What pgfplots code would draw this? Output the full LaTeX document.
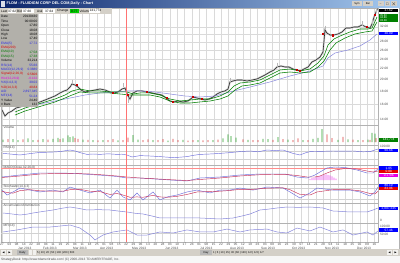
\documentclass[border=0pt]{standalone}
\usepackage{amssymb}
\usepackage{pgfplots}
\pgfplotsset{compat=1.18}
\usepackage{pgfplotstable}
\usepackage{fontspec}
\setmainfont{Liberation Sans}
\definecolor{titleL}{RGB}{10,36,106}
\definecolor{titleR}{RGB}{166,202,240}
\definecolor{wgray}{RGB}{212,208,200}
\definecolor{dwin}{RGB}{178,176,170}
\definecolor{emag}{RGB}{0,128,0}
\definecolor{lav}{RGB}{136,136,220}
\definecolor{cred}{RGB}{200,0,0}
\definecolor{vgreen}{RGB}{40,160,40}
\definecolor{vred}{RGB}{220,60,60}
\definecolor{gridc}{RGB}{218,218,218}
\definecolor{tblue}{RGB}{40,40,230}
\definecolor{tred}{RGB}{220,0,0}
\definecolor{tgreen}{RGB}{0,120,0}
\definecolor{tmag}{RGB}{230,0,230}
\definecolor{bxblue}{RGB}{0,0,255}
\definecolor{bxred}{RGB}{230,0,0}
\definecolor{bxgreen}{RGB}{0,128,0}
\definecolor{macdred}{RGB}{200,50,90}
\definecolor{macdblue}{RGB}{110,110,220}
\newcommand{\tf}{\fontsize{3.2}{3.6}\selectfont}
\newcommand{\tfs}{\fontsize{2.7}{2.9}\selectfont}
\newcommand{\valbox}[4]{\node[fill=#1, text=white, inner sep=0pt, minimum width=19pt, minimum height=#4, anchor=west, font=\tf] at (379,#2) {#3};}
\newcommand{\drow}[4]{\node[anchor=west,font=\tf,text=#4,inner sep=0pt] at (1,#1) {#2};\node[anchor=east,font=\tf,text=#4,inner sep=0pt] at (37.5,#1) {#3};}
\pgfplotsset{panel/.style={scale only axis, width=377pt, xmin=1, xmax=378, anchor=south west,
  axis line style={draw=gray!60, line width=0.5pt}, xtick={2,9.3,...,375}, xticklabels={},
  xmajorgrids, grid style={gridc, line width=0.4pt}, major tick length=0pt, ytick=\empty}}

\pgfplotstableread{
x p
2 15.24
5 14.44
8 14.84
12 15.10
16 15.51
20 15.65
25 15.94
30 16.22
35 16.22
40 16.37
45 16.66
50 16.96
55 17.27
60 17.74
64 18.06
67 18.22
70 18.71
72 19.22
75 19.05
78 18.71
81 18.22
85 17.90
90 18.06
95 18.22
100 18.38
105 18.22
110 17.90
114 17.74
118 17.90
122 18.38
125 18.55
128 17.27
130 16.81
133 17.74
137 18.06
142 18.06
147 17.90
152 17.74
157 17.58
162 17.42
166 16.96
170 16.51
174 16.37
178 16.51
183 16.37
188 16.51
193 17.11
197 16.96
201 16.81
205 16.66
209 16.81
213 17.11
217 17.58
221 17.90
225 18.06
228 18.38
230 19.57
233 19.74
237 19.92
242 19.92
247 19.74
252 19.92
257 20.10
261 20.46
265 20.83
270 21.39
274 21.78
277 22.37
281 22.57
285 22.37
289 22.37
293 21.97
297 21.78
300 21.58
304 21.97
308 22.37
312 23.39
316 23.81
320 24.45
323 25.57
325 31.12
327 30.29
330 29.76
334 29.76
338 30.03
342 30.57
346 31.68
350 31.68
354 31.96
358 31.96
362 32.54
366 31.96
370 31.68
372 32.83
374 34.94
376 36.54
377.5 37.62
}\closetab

\begin{document}
\begin{tikzpicture}
\useasboundingbox (0,0) rectangle (400pt,263pt);
\fill[white] (0,0) rectangle (400pt,263pt);

% ---------------- price panel
\begin{axis}[panel, at={(1pt,138pt)}, height=117pt, ymode=log, ymin=13.33, ymax=37.87,
  ytick={14,16,18,20,22,24,26,28,32},
  yticklabels={14.00,16.00,18.00,20.00,22.00,24.00,26.00,28.00,32.00},
  extra y ticks={30}, extra y tick labels={},
  ymajorgrids, yticklabel pos=right,
  yticklabel style={font=\tf, text=gray!60!black, inner sep=0pt, xshift=2pt}]
\addplot[gray!40, line width=1.8pt] table[x=x,y=p] {\closetab};
\addplot[black!85, line width=0.55pt] table[x=x,y=p] {\closetab};
\addplot[only marks, mark=|, mark size=2.2pt, gray!55, mark options={line width=0.45pt}] coordinates {
(72,19.6) (123,19.0) (128,16.6) (230,19.9) (277,22.8) (325,31.7) (362,33.0) (372,33.6) (376,37.0)};
\addplot[lav, line width=0.5pt] coordinates {
(28,15.65) (40,16.08) (55,16.51) (70,16.96) (85,17.42) (100,17.74) (115,17.90) (127,18.06)
(140,18.06) (155,17.90) (170,17.58) (185,17.27) (200,17.11) (215,17.27) (230,17.90) (250,18.71)
(270,19.57) (290,20.64) (310,21.58) (323,22.57) (328,24.24) (335,25.34) (348,26.03) (360,26.98)
(370,28.46) (377,30.03)};
\addplot[emag, line width=0.55pt] coordinates {
(15,14.97) (25,15.51) (35,15.94) (45,16.37) (55,16.81) (65,17.42) (72,18.06) (80,18.38)
(90,18.06) (100,18.06) (110,17.90) (120,17.90) (127,17.90) (133,17.58) (140,17.74) (150,17.74)
(160,17.42) (170,16.81) (180,16.51) (190,16.66) (200,16.81) (210,16.81) (220,17.27) (228,17.90)
(234,18.88) (240,19.39) (250,19.57) (260,19.92) (270,20.83) (280,21.78) (290,21.97) (300,21.58)
(310,21.97) (318,23.18) (324,24.67) (328,27.22) (334,28.72) (340,29.49) (350,30.57) (360,31.40)
(368,31.40) (372,31.68) (377,34.94)};
\addplot[emag, line width=0.55pt] coordinates {
(15,14.57) (25,15.10) (35,15.51) (45,15.94) (55,16.37) (65,16.96) (72,17.42) (80,17.90)
(90,17.74) (100,17.74) (110,17.74) (120,17.58) (130,17.42) (140,17.42) (150,17.42) (160,17.11)
(170,16.51) (180,16.22) (190,16.22) (200,16.37) (210,16.51) (220,16.81) (228,17.27) (235,18.22)
(242,18.88) (250,19.05) (260,19.39) (270,20.28) (280,21.20) (290,21.39) (300,21.20) (310,21.39)
(318,22.37) (324,23.60) (330,26.03) (336,27.71) (345,28.97) (355,30.03) (365,30.57) (372,30.84)
(377,33.42)};
\addplot[only marks, mark=square*, mark size=0.6pt, cred] coordinates {
(77,19.05) (113,17.80) (128,17.42) (147,17.95) (167,16.96) (173,16.37) (193,17.11) (202,16.90)
(297,21.80) (300,21.60) (323,30.00) (333,29.70) (367,31.96) (375,35.60)};
\end{axis}

% ---------------- volume
\begin{axis}[panel, at={(1pt,118pt)}, height=20pt, ymin=-150, ymax=850]
\addplot[ybar, bar width=0.9pt, bar shift=0pt, fill=vgreen, draw=none] coordinates {
(3,120) (13,150) (18,90) (28,180) (33,100) (43,140) (53,160) (58,210) (63,180) (68,330) (70,250)
(73,280) (83,120) (93,100) (103,90) (118,80) (133,340) (138,120) (153,90) (168,70) (183,110)
(198,90) (213,100) (223,180) (228,380) (231,300) (236,220) (248,110) (263,160) (268,140) (278,240)
(288,120) (303,90) (313,160) (318,210) (322,650) (338,110) (348,130) (358,100) (368,120) (372,460) (375,420)};
\addplot[ybar, bar width=0.9pt, bar shift=0pt, fill=vred, draw=none] coordinates {
(8,140) (23,130) (38,110) (48,120) (60,150) (75,200) (78,160) (88,110) (98,80) (108,100) (113,140)
(123,90) (128,220) (143,100) (148,130) (158,90) (163,140) (173,160) (178,90) (188,70) (193,100)
(203,80) (208,90) (218,120) (243,130) (253,90) (258,100) (273,110) (283,150) (293,100) (298,180)
(308,90) (327,380) (332,200) (343,260) (353,120) (363,90) (370,110) (376,200)};
\node[anchor=north west, font=\tf, text=gray!60!black, inner sep=0.5pt] at (rel axis cs:0.005,1) {Volume};
\end{axis}

% ---------------- RSI
\begin{axis}[panel, at={(1pt,98pt)}, height=20pt, ymin=0, ymax=100]
\draw[gray!35, line width=0.4pt] (axis cs:1,70) -- (axis cs:378,70);
\draw[gray!35, line width=0.4pt] (axis cs:1,30) -- (axis cs:378,30);
\addplot[macdblue, line width=0.45pt] coordinates {
(3,58) (10,55) (20,50) (30,57) (40,63) (50,64) (60,67) (70,75) (75,70) (80,62) (87,53) (93,55)
(100,53) (108,56) (117,53) (122,54) (127,50) (132,40) (140,47) (150,45) (160,42) (165,40) (173,37)
(180,39) (187,42) (193,48) (200,53) (210,55) (220,58) (230,62) (240,67) (250,70) (258,66) (267,75)
(275,72) (283,75) (293,58) (300,50) (305,60) (310,67) (320,68) (333,70) (343,69) (353,70) (363,66)
(370,67) (375,75) (378,80)};
\node[anchor=north west, font=\tf, text=gray!60!black, inner sep=0.5pt] at (rel axis cs:0.005,1) {RSI(14)};
\end{axis}

% ---------------- MACD
\begin{axis}[panel, at={(1pt,79pt)}, height=19pt, ymin=-0.4, ymax=1.5]
\draw[red!45, line width=0.4pt] (axis cs:1,1.2) -- (axis cs:378,1.2);
\addplot[ybar, bar width=0.9pt, bar shift=0pt, fill=tmag!70, draw=none] coordinates {
(310,0.1) (312,0.2) (314,0.25) (316,0.3) (318,0.35) (320,0.4) (322,0.45) (324,0.5) (326,0.55)
(328,0.5) (330,0.45) (332,0.35) (334,0.25) (336,0.15)};
\addplot[macdblue, line width=0.45pt] coordinates {
(2,0.3) (20,0.5) (40,0.7) (60,0.7) (75,0.65) (90,0.55) (105,0.45) (117,0.35) (127,0.2) (140,0.2)
(155,0.1) (170,0.0) (187,-0.1) (200,0.2) (220,0.3) (240,0.5) (260,0.6) (285,0.6) (297,0.3)
(307,0.2) (315,0.5) (320,0.8) (327,1.2) (335,1.3) (345,1.25) (357,1.0) (367,0.7) (373,0.7) (378,1.1)};
\addplot[macdred, line width=0.45pt] coordinates {
(2,0.25) (20,0.4) (40,0.6) (60,0.67) (75,0.65) (90,0.6) (105,0.5) (117,0.4) (127,0.3) (140,0.2)
(155,0.12) (170,0.03) (187,-0.05) (200,0.05) (220,0.2) (240,0.4) (260,0.53) (285,0.57) (297,0.45)
(307,0.3) (315,0.3) (320,0.4) (327,0.7) (335,1.0) (345,1.15) (357,1.1) (367,0.9) (373,0.8) (378,0.9)};
\node[anchor=north west, font=\tf, text=gray!60!black, inner sep=0.5pt] at (rel axis cs:0.005,1) {MACD(Close,12,26,9)};
\end{axis}

% ---------------- Stochastic
\begin{axis}[panel, at={(1pt,60pt)}, height=19pt, ymin=0, ymax=100]
\draw[gray!35, line width=0.4pt] (axis cs:1,80) -- (axis cs:378,80);
\draw[gray!35, line width=0.4pt] (axis cs:1,20) -- (axis cs:378,20);
\addplot[macdblue, line width=0.45pt] coordinates {
(2,68) (7,42) (13,58) (20,79) (30,68) (40,58) (53,68) (63,58) (70,84) (80,68) (90,53) (100,68)
(110,26) (117,68) (123,32) (130,16) (137,53) (143,16) (153,58) (160,16) (167,32) (177,42) (187,58)
(197,68) (210,53) (220,68) (230,68) (240,79) (253,68) (267,84) (283,79) (290,58) (300,26) (310,53)
(317,79) (333,68) (350,68) (360,58) (370,37) (375,58) (378,84)};
\addplot[macdred, line width=0.45pt] coordinates {
(2,62) (7,55) (13,52) (20,65) (30,70) (40,64) (53,62) (63,62) (70,70) (80,72) (90,62) (100,60)
(110,45) (117,50) (123,42) (130,30) (137,32) (143,30) (153,40) (160,32) (167,30) (177,35) (187,45)
(197,58) (210,60) (220,62) (230,66) (240,72) (253,72) (267,78) (283,80) (290,70) (300,45) (310,42)
(317,58) (333,70) (350,70) (360,64) (370,50) (375,48) (378,62)};
\node[anchor=north west, font=\tf, text=gray!60!black, inner sep=0.5pt] at (rel axis cs:0.005,1) {Stochastic(14,3,3)};
\end{axis}

% ---------------- A/D
\begin{axis}[panel, at={(1pt,40pt)}, height=20pt, ymin=-0.44, ymax=3.96]
\addplot[lav, line width=0.5pt] coordinates {
(3,1.76) (10,1.6) (20,1.32) (27,1.5) (33,1.76) (43,2.1) (53,2.42) (62,2.8) (70,3.08) (78,2.8)
(87,2.42) (98,2.5) (110,2.42) (118,2.2) (127,1.98) (135,1.7) (143,1.54) (152,1.1) (160,0.66)
(172,0.7) (187,0.66) (200,0.66) (210,0.55) (220,0.44) (233,0.66) (242,1.1) (250,1.54) (260,2.42)
(268,2.6) (277,2.86) (287,3.08) (298,3.0) (310,3.08) (323,2.86) (333,2.2) (342,2.1) (350,1.98)
(358,2.0) (367,1.98) (373,2.42) (378,2.86)};
\node[anchor=north west, font=\tf, text=gray!60!black, inner sep=0.5pt] at (rel axis cs:0.005,1) {Accumulation/Distribution};
\end{axis}

% ---------------- MFI
\begin{axis}[panel, at={(1pt,21pt)}, height=19pt, ymin=0, ymax=111.8,
  xticklabels={27,03,08,14,22,28,04,11,19,25,04,11,18,25,01,08,15,22,29,06,13,20,28,03,10,17,24,01,08,15,22,29,05,12,19,26,03,09,16,23,30,07,14,21,28,04,11,18,25,02,09,16},
  xticklabel style={font=\tf, text=gray!60!black, inner sep=0pt, yshift=-1pt}]
\draw[gray!35, line width=0.4pt] (axis cs:1,50) -- (axis cs:378,50);
\addplot[lav, line width=0.5pt] coordinates {
(3,59) (17,71) (33,88) (50,88) (70,100) (80,82) (90,41) (95,12) (103,41) (113,59) (127,71)
(137,41) (147,41) (160,59) (173,53) (187,71) (200,59) (213,59) (227,76) (240,59) (250,71) (267,76)
(277,59) (287,53) (297,82) (310,65) (320,88) (333,59) (343,71) (353,41) (367,59) (373,41) (378,65)};
\node[anchor=north west, font=\tf, text=gray!60!black, inner sep=0.5pt] at (rel axis cs:0.005,1) {MFI(14)};
\end{axis}

\begin{scope}[x=1pt,y=1pt]
% crosshair
\draw[red!55, line width=0.4pt] (126,255) -- (126,21);

% month labels
\foreach \mx/\mn in {18/Jan 2013,43/Feb 2013,73/Mar 2013,100/Apr 2013,132/May 2013,165/Jun 2013,200/Jul 2013,230/Aug 2013,261/Sep 2013,292/Oct 2013,325/Nov 2013,357/Dec 2013}
  \node[anchor=west, font=\tf, text=gray!60!black, inner sep=0pt] at (\mx,14.5) {\mn};

% right column labels
\valbox{black}{252.5}{37.62}{3.4pt}
\node[fill=bxgreen, minimum width=19pt, minimum height=8.2pt, inner sep=0pt, anchor=north west] at (379,249.2) {};
\node[anchor=west, font=\tfs, text=white, inner sep=0pt] at (380,247.6) {35.60};
\node[anchor=west, font=\tfs, text=white, inner sep=0pt] at (380,245.0) {34.86};
\node[anchor=west, font=\tfs, text=white, inner sep=0pt] at (380,242.4) {33.38};
\valbox{bxblue}{229.5}{30.09}{3.5pt}
\valbox{bxgreen}{123}{141,774}{3.6pt}
\node[anchor=west, font=\tf, text=gray!60!black, inner sep=0pt] at (380,116.5) {100.00};
\valbox{bxblue}{112.5}{60.66}{3.5pt}
\valbox{bxblue}{95}{1.05}{3.2pt}
\valbox{bxred}{91.6}{0.88}{3.4pt}
\valbox{tmag}{87.6}{0.1706}{3.2pt}
\valbox{bxblue}{77.4}{80.10}{2.6pt}
\valbox{bxred}{74.2}{83.96}{3.4pt}
\valbox{bxblue}{54.5}{2,897,345}{3.5pt}
\node[anchor=west, font=\tf, text=gray!60!black, inner sep=0pt] at (380,43) {0};
\node[anchor=west, font=\tf, text=gray!60!black, inner sep=0pt] at (380,37) {100.00};
\valbox{bxblue}{33}{57.46}{3.5pt}
\node[anchor=west, font=\tf, text=gray!60!black, inner sep=0pt] at (380,29) {50.00};
\draw[gray!60, line width=0.5pt] (399.5,13.5) -- (399.5,255);

% title bar
\shade[left color=titleL, right color=titleR] (0,255) rectangle (400,263);
\fill[white!85!titleL] (1,256.3) rectangle (5,261.7);
\node[anchor=west, font=\fontsize{3.8}{4}\selectfont\bfseries, text=white, inner sep=0pt] at (6.5,259) {FLDM - FLUIDIGM CORP DEL COM,Daily - Chart};
\foreach \bx/\bw/\bt in {352/10/Sym,363/10/Bar}
  {\fill[wgray] (\bx,256.5) rectangle (\bx+\bw,261.5); \node[font=\tfs, inner sep=0pt] at (\bx+\bw/2,259) {\bt};}
\foreach \bx/\bt in {378/\_,384.5/$\square$,391/$\times$}
  {\fill[wgray] (\bx,256.5) rectangle (\bx+5.5,261.5); \node[font=\tfs, inner sep=0pt] at (\bx+2.75,259) {\bt};}

% info bar
\fill[wgray] (0,249) rectangle (112,255);
\node[anchor=west, font=\tf, inner sep=0pt] at (1,252) {Last};
\fill[white] (7.5,249.8) rectangle (15.5,254.2); \node[anchor=west, font=\tf, inner sep=0pt] at (8,252) {37.62};
\node[anchor=west, font=\tf, inner sep=0pt] at (17,252) {Bid};
\fill[white] (22,249.8) rectangle (34,254.2); \node[anchor=west, font=\tf, inner sep=0pt] at (23,252) {37.60};
\node[anchor=west, font=\tf, inner sep=0pt] at (37,252) {Ask};
\fill[white] (43,249.8) rectangle (55,254.2); \node[anchor=west, font=\tf, inner sep=0pt] at (45,252) {37.64};
\node[anchor=west, font=\tf, inner sep=0pt] at (57,252) {Change};
\fill[green!80!black] (69.5,249.8) rectangle (78.5,254.2); \node[anchor=west, font=\tf, inner sep=0pt] at (71,252) {0.77};
\node[anchor=west, font=\tf, inner sep=0pt] at (79.5,252) {Volume};
\fill[white] (89,249.8) rectangle (100,254.2); \node[anchor=west, font=\tf, inner sep=0pt] at (89.5,252) {141,774};

% data window
\fill[dwin] (0,156) rectangle (38,249);
\drow{246.2}{Date}{20130430}{black}
\drow{241.8}{Time}{00:00:00}{black}
\drow{237.4}{Open}{17.80}{black}
\drow{233.0}{Close}{18.08}{black}
\drow{228.6}{High}{18.08}{black}
\drow{224.2}{Low}{17.40}{black}
\drow{219.8}{EMA(5)}{17.72}{tblue}
\drow{215.4}{EMA(200)}{}{tred}
\drow{211.0}{EMA(10)}{17.58}{tgreen}
\drow{206.6}{EMA(15)}{17.38}{tgreen}
\drow{202.2}{Volume}{33,214}{black}
\drow{197.8}{RSI(14)}{55.66}{tblue}
\drow{193.4}{MACD(12,26,9)}{0.3880}{tblue}
\drow{189.0}{Signal(12,26,9)}{0.5606}{tred}
\drow{184.6}{Hist(12,26,9)}{-0.132}{tmag}
\drow{180.2}{\%K(14,3,3)}{39.02}{tblue}
\drow{175.8}{\%D(14,3,3)}{40.84}{tred}
\drow{171.4}{A/D}{2,897,345}{tblue}
\drow{167.0}{MFI(14)}{51.24}{tblue}
\drow{162.6}{Y Value}{24.40}{black}
\drow{158.2}{\# Bars}{132}{black}

% scroll / tab bar
\fill[wgray] (0,7) rectangle (400,13.5);
\fill[white!70!wgray] (1,7.8) rectangle (6,12.7); \node[font=\tfs, inner sep=0pt] at (3.5,10.2) {$\blacktriangleleft$};
\fill[white!70!wgray] (7,7.8) rectangle (12,12.7); \node[font=\tfs, inner sep=0pt] at (9.5,10.2) {$\blacktriangleright$};
\fill[gray!55] (17,7.8) rectangle (28,12.7); \node[font=\tfs, inner sep=0pt] at (22.5,10.2) {Daily};
\fill[white!70!wgray] (28.5,7.8) rectangle (32,12.7);
\fill[white!70!wgray] (32.5,7.8) rectangle (36,12.7);
\node[anchor=west, font=\tfs, inner sep=0pt] at (37,10.2) {5 | 10 | 20 | 50 | 100 | 200 | 500};
\fill[gray!55] (200,7.8) rectangle (212,12.7); \node[font=\tfs, inner sep=0pt] at (206,10.2) {Day};
\node[anchor=west, font=\tfs, inner sep=0pt] at (213,10.2) {1 | 5 | 10 | 15 | 30 | 60 | 120 | 1/2 | 1/3 | 1/7};
\fill[white!70!wgray] (387,7.8) rectangle (392,12.7); \node[font=\tfs, inner sep=0pt] at (389.5,10.2) {$\blacktriangleleft$};
\fill[white!70!wgray] (393,7.8) rectangle (398,12.7); \node[font=\tfs, inner sep=0pt] at (395.5,10.2) {$\blacktriangleright$};

% status bar
\fill[gray!6] (0,0) rectangle (400,7);
\node[anchor=west, font=\tf, text=gray!60!black, inner sep=0pt] at (1,3.5) {StrategyDesk: http://www.tdameritrade.com/ (C) 2000-2013 TD AMERITRADE, Inc.};
\end{scope}
\end{tikzpicture}
\end{document}
